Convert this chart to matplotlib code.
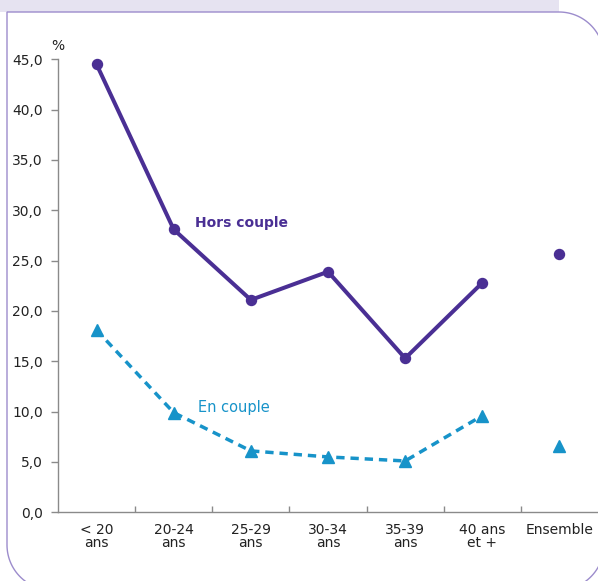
import matplotlib
matplotlib.use("Agg")
import matplotlib.pyplot as plt
from matplotlib.path import Path
from matplotlib.patches import PathPatch, Rectangle
import numpy as np

# Data (%)
categories = ["< 20\nans", "20-24\nans", "25-29\nans", "30-34\nans",
              "35-39\nans", "40 ans\net +", "Ensemble"]
hors_couple = [44.5, 28.1, 21.1, 23.9, 15.3, 22.8, 25.7]
en_couple = [18.1, 9.9, 6.1, 5.5, 5.1, 9.6, 6.6]
y_ticks = [0, 5, 10, 15, 20, 25, 30, 35, 40, 45]

PURPLE = "#4a2f94"
BLUE = "#1793c9"
GREY = "#8a8a8a"
FRAME = "#9c8ccc"
BAND = "#e6e3f1"

W, H = 598, 581
fig = plt.figure(figsize=(W / 100, H / 100), dpi=100)

# Decorative panel: header band and rounded frame, in pixel units
bg = fig.add_axes([0, 0, 1, 1], zorder=0)
bg.set_xlim(0, W)
bg.set_ylim(H, 0)
bg.axis("off")
bg.add_patch(Rectangle((0, 0), 559, 12, color=BAND, lw=0))


def arc(cx, cy, r, a0, a1, n=30):
    t = np.radians(np.linspace(a0, a1, n))
    return list(zip(cx + r * np.cos(t), cy + r * np.sin(t)))


r = 45
left, top, right, bottom = 7, 12, 604, 590
verts = [(right - r, top), (left, top), (left, bottom - r)]
verts += arc(left + r, bottom - r, r, 180, 90)
verts += [(right - r, bottom)]
verts += arc(right - r, bottom - r, r, 90, 0)
verts += [(right, top + r)]
verts += arc(right - r, top + r, r, 0, -90)
bg.add_patch(PathPatch(Path(verts), fill=False, ec=FRAME, lw=1.0))

# Chart
ax = fig.add_axes([58 / W, 1 - 512.3 / H, 1 - 58 / W, (512.3 - 59.3) / H],
                  zorder=1)
ax.patch.set_alpha(0)
x = np.arange(len(categories))

ax.plot(x[:-1], hors_couple[:-1], color=PURPLE, lw=2.9, marker="o",
        ms=7.2, solid_capstyle="round", clip_on=False)
ax.plot(x[-1:], hors_couple[-1:], ls="none", color=PURPLE, marker="o",
        ms=7.2, clip_on=False)
ax.plot(x[:-1], en_couple[:-1], color=BLUE, lw=2.5, ls=(0, (2.4, 1.7)),
        marker="^", ms=9.3, clip_on=False)
ax.plot(x[-1:], en_couple[-1:], ls="none", color=BLUE, marker="^", ms=9.3,
        clip_on=False)

ax.set_xlim(-0.5, len(categories) - 0.5)
ax.set_ylim(0, 45)

for s in ("top", "right"):
    ax.spines[s].set_visible(False)
for s in ("left", "bottom"):
    ax.spines[s].set_color(GREY)
    ax.spines[s].set_linewidth(1.0)

ax.set_yticks(y_ticks)
ax.set_yticklabels([f"{v:.1f}".replace(".", ",") for v in y_ticks])
ax.tick_params(axis="y", direction="out", length=5, width=1, color=GREY,
               labelsize=10, pad=6, labelcolor="#222222")

ax.set_xticks(x)
ax.set_xticklabels(categories, linespacing=0.85)
ax.set_xticks(np.arange(0.5, len(categories) - 0.5), minor=True)
ax.tick_params(axis="x", which="major", length=0, labelsize=10, pad=8,
               labelcolor="#222222")
ax.tick_params(axis="x", which="minor", direction="in", length=4, width=1,
               color=GREY)

ax.text(-0.5, 46.3, "%", ha="center", va="center", fontsize=10,
        color="#222222", clip_on=False)

ax.text(1.27, 28.7, "Hors couple", color=PURPLE, fontsize=10,
        fontweight="bold", ha="left", va="center")
ax.text(1.32, 10.46, "En couple", color=BLUE, fontsize=10.5,
        ha="left", va="center")

fig.savefig("out.png", dpi=100)
